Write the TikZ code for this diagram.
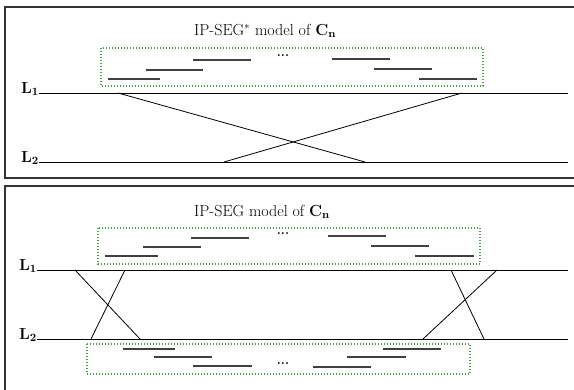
\RequirePackage{fix-cm}
\documentclass[tikz,border=0pt]{standalone}
\usepackage{amsmath}
\definecolor{grpgreen}{RGB}{70,160,70}
\begin{document}
\begin{tikzpicture}[x=1pt,y=-1pt,
  frame/.style={draw=black!80,line width=1.1pt},
  track/.style={draw=black,line width=0.9pt},
  chord/.style={draw=black,line width=0.8pt},
  seg/.style={draw=black!75,line width=1.2pt},
  group/.style={draw=grpgreen,line width=1.1pt,dash pattern=on 1pt off 2pt},
  lab/.style={font=\fontsize{16}{18}\selectfont,inner sep=0pt},
  ttl/.style={font=\fontsize{16}{18}\selectfont,inner sep=0pt},
  gap/.style={inner sep=0pt,font=\bfseries\fontsize{13}{15}\selectfont}]
\useasboundingbox (0,0) rectangle (574,390);
\clip (0,0) rectangle (574,390);

% ---------- upper panel: IP-SEG* ----------
\draw[frame] (5,7) rectangle (590,178);
\node[ttl,anchor=west] (t1) at (194,31) {IP-SEG$^{*}$ model of $\mathbf{C_n}$};
\draw[group] (101,48) rectangle (483,86);
\draw[seg] (108,79) -- (160,79);
\draw[seg] (146,70) -- (203,70);
\draw[seg] (193,60) -- (251,60);
\node[gap] (d1) at (283,56) {...};
\draw[seg] (332,59) -- (390,59);
\draw[seg] (374,69) -- (432,69);
\draw[seg] (419,79) -- (477,79);

\node[lab,anchor=east] (a1) at (39,89) {$\mathbf{L_1}$};
\node[lab,anchor=east] (a2) at (39,158) {$\mathbf{L_2}$};
\coordinate (a1e) at (568,93);
\coordinate (a2e) at (568,162);
\draw[track] (a1.south east |- a1e) -- (a1e);
\draw[track] (a2.south east |- a2e) -- (a2e);
\coordinate (p1) at (118,93);
\coordinate (p2) at (462,93);
\coordinate (q1) at (365,162);
\coordinate (q2) at (224,162);
\draw[chord] (p1) -- (q1);
\draw[chord] (p2) -- (q2);

% ---------- lower panel: IP-SEG ----------
\draw[frame] (5,186) rectangle (590,400);
\node[ttl,anchor=west] (t2) at (194,212) {IP-SEG model of $\mathbf{C_n}$};
\draw[group] (98,228) rectangle (480,264);
\draw[seg] (105,256) -- (158,256);
\draw[seg] (143,247) -- (201,247);
\draw[seg] (191,238) -- (249,238);
\node[gap] (d2) at (283,234) {...};
\draw[seg] (328,236) -- (386,236);
\draw[seg] (371,246) -- (429,246);
\draw[seg] (415,256) -- (474,256);

\node[lab,anchor=east] (b1) at (37,266) {$\mathbf{L_1}$};
\node[lab,anchor=east] (b2) at (37,335) {$\mathbf{L_2}$};
\coordinate (b1e) at (568,270);
\coordinate (b2e) at (568,339);
\draw[track] (b1.south east |- b1e) -- (b1e);
\draw[track] (b2.south east |- b2e) -- (b2e);
\coordinate (u1) at (75,270);
\coordinate (u2) at (125,270);
\coordinate (u3) at (451,270);
\coordinate (u4) at (497,270);
\coordinate (v1) at (140,339);
\coordinate (v2) at (91,339);
\coordinate (v3) at (484,339);
\coordinate (v4) at (423,339);
\draw[chord] (u1) -- (v1);
\draw[chord] (u2) -- (v2);
\draw[chord] (u3) -- (v3);
\draw[chord] (u4) -- (v4);

\draw[group] (87,344) rectangle (470,374);
\draw[seg] (123,349) -- (175,349);
\draw[seg] (154,357) -- (212,357);
\draw[seg] (193,366) -- (252,366);
\node[gap] (d3) at (283,364) {...};
\draw[seg] (313,367) -- (371,367);
\draw[seg] (347,357) -- (406,357);
\draw[seg] (383,349) -- (441,349);
\end{tikzpicture}
\end{document}
